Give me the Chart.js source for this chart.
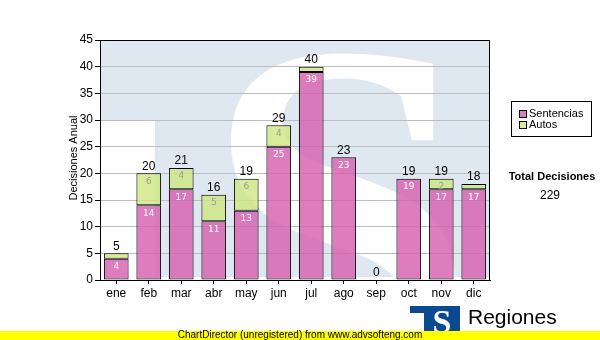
<!DOCTYPE html>
<html>
<head>
<meta charset="utf-8">
<script src="https://cdn.jsdelivr.net/npm/chart.js@4"></script>
<style>
  html, body { margin: 0; padding: 0; background: #fff; }
  #wrap { width: 600px; height: 340px; position: relative; }
</style>
</head>
<body>
<div id="wrap"><canvas id="myChart" width="600" height="340"></canvas></div>
<script>
// datos del grafico
const meses = ['ene', 'feb', 'mar', 'abr', 'may', 'jun', 'jul', 'ago', 'sep', 'oct', 'nov', 'dic'];
const sentencias = [4, 14, 17, 11, 13, 25, 39, 23, 0, 19, 17, 17];
const autos = [1, 6, 4, 5, 6, 4, 1, 0, 0, 0, 2, 1];
const serieNombres = ['Sentencias', 'Autos'];
const yMax = 45;
const yPaso = 5;

const colores = ['rgba(212,92,172,0.8)', 'rgba(205,230,130,0.8)'];

// marca de agua (logo) detras del area de grafico
const marcaAgua = {
  id: 'marcaAgua',
  beforeDraw(chart) {
    const { ctx, chartArea: a } = chart;
    ctx.save();
    ctx.beginPath();
    ctx.rect(a.left, a.top, a.right - a.left, a.bottom - a.top);
    ctx.clip();
    ctx.fillStyle = '#dfe8f1';
    ctx.fillRect(a.left, a.top, a.right - a.left, 80);
    ctx.fillRect(a.left + 55, a.top, a.right - a.left - 55, a.bottom - a.top - 3);
    ctx.fillStyle = '#fff';
    ctx.font = 'bold 490px "Liberation Serif"';
    ctx.textBaseline = 'alphabetic';
    ctx.fillText('S', 203, 378);
    ctx.restore();
  }
};

// marco, etiquetas de valores, leyenda, titulo y pie
const extras = {
  id: 'extras',
  beforeDatasetsDraw(chart) {
    const { ctx, chartArea: a } = chart;
    ctx.save();
    ctx.strokeStyle = '#000';
    ctx.lineWidth = 1;
    ctx.strokeRect(a.left + 0.5, a.top + 0.5, a.right - a.left - 1, a.bottom - a.top);
    ctx.restore();
  },
  afterDatasetsDraw(chart) {
    const { ctx, scales: { x, y } } = chart;
    ctx.save();
    ctx.textAlign = 'center';

    // valores dentro de los segmentos
    ctx.font = '9px "DejaVu Sans"';
    ctx.textBaseline = 'middle';
    chart.data.datasets.forEach((ds, di) => {
      const meta = chart.getDatasetMeta(di);
      ds.data.forEach((v, i) => {
        if (v < 2) return;
        const bar = meta.data[i];
        ctx.fillStyle = di === 0 ? '#fff' : '#9a9a9a';
        ctx.fillText(v, bar.x, bar.y + 8);
      });
    });

    // totales encima de cada barra
    ctx.font = '12px "Liberation Sans"';
    ctx.fillStyle = '#000';
    ctx.textBaseline = 'bottom';
    meses.forEach((m, i) => {
      const total = sentencias[i] + autos[i];
      ctx.fillText(total, x.getPixelForValue(i), y.getPixelForValue(total) - 1);
    });

    // titulo del eje y
    ctx.save();
    ctx.translate(74, 158);
    ctx.rotate(-Math.PI / 2);
    ctx.font = '11px "Liberation Sans"';
    ctx.textBaseline = 'middle';
    ctx.fillText('Decisiones Anual', 0, 0);
    ctx.restore();

    // leyenda
    ctx.fillStyle = '#fff';
    ctx.fillRect(511, 101, 80, 35);
    ctx.strokeStyle = '#000';
    ctx.strokeRect(511.5, 101.5, 80, 35);
    ctx.font = '11px "Liberation Sans"';
    ctx.textAlign = 'left';
    ctx.textBaseline = 'middle';
    serieNombres.forEach((n, i) => {
      const yy = 114 + i * 11;
      ctx.fillStyle = colores[i];
      ctx.fillRect(519, yy - 3, 7, 7);
      ctx.strokeRect(519.5, yy - 3.5, 7, 7);
      ctx.fillStyle = '#000';
      ctx.fillText(n, 529, yy);
    });

    // total de decisiones
    const totalGeneral = sentencias.reduce((s, v) => s + v, 0) + autos.reduce((s, v) => s + v, 0);
    ctx.textAlign = 'center';
    ctx.font = 'bold 11px "Liberation Sans"';
    ctx.fillText('Total Decisiones', 552, 177);
    ctx.font = '12px "Liberation Sans"';
    ctx.fillText(totalGeneral, 550, 196);

    // logo inferior
    ctx.fillStyle = '#0b4a8e';
    ctx.fillRect(410, 306, 50, 7);
    ctx.fillRect(424, 306, 36, 28);
    ctx.fillStyle = '#fff';
    ctx.font = 'bold 34px "Liberation Serif"';
    ctx.textAlign = 'center';
    ctx.textBaseline = 'alphabetic';
    ctx.fillText('S', 442, 333);
    ctx.fillStyle = '#000';
    ctx.textAlign = 'left';
    ctx.font = '21px "Liberation Sans"';
    ctx.fillText('Regiones', 468, 324);

    // barra amarilla
    ctx.fillStyle = '#ffff00';
    ctx.fillRect(0, 331, 600, 9);
    ctx.fillStyle = '#000';
    ctx.textAlign = 'center';
    ctx.textBaseline = 'middle';
    ctx.font = '10px "Liberation Sans"';
    ctx.fillText('ChartDirector (unregistered) from www.advsofteng.com', 300, 335.5);
    ctx.restore();
  }
};

const ctx = document.getElementById('myChart');

new Chart(ctx, {
  type: 'bar',
  data: {
    labels: meses,
    datasets: [
      { label: serieNombres[0], data: sentencias, backgroundColor: colores[0] },
      { label: serieNombres[1], data: autos, backgroundColor: colores[1] }
    ]
  },
  options: {
    responsive: false,
    animation: false,
    layout: { padding: { top: 40, right: 110, left: 0, bottom: 0 } },
    datasets: {
      bar: {
        borderColor: '#000',
        borderWidth: 1,
        borderSkipped: false,
        barPercentage: 0.76,
        categoryPercentage: 1
      }
    },
    plugins: {
      legend: { display: false },
      tooltip: { enabled: false }
    },
    scales: {
      x: {
        stacked: true,
        afterFit(scale) { scale.height = 60; },
        grid: { drawOnChartArea: false, offset: false, tickLength: 4, tickColor: '#000' },
        border: { color: '#000' },
        ticks: { color: '#000', padding: 2, font: { family: 'Liberation Sans', size: 12 } }
      },
      y: {
        stacked: true,
        min: 0,
        max: yMax,
        afterFit(scale) { scale.width = 100; },
        grid: { color: '#bdbdbd', tickLength: 5, tickColor: '#000' },
        border: { color: '#000' },
        ticks: { stepSize: yPaso, color: '#000', padding: 2, font: { family: 'Liberation Sans', size: 12 } }
      }
    }
  },
  plugins: [marcaAgua, extras]
});
</script>
</body>
</html>
